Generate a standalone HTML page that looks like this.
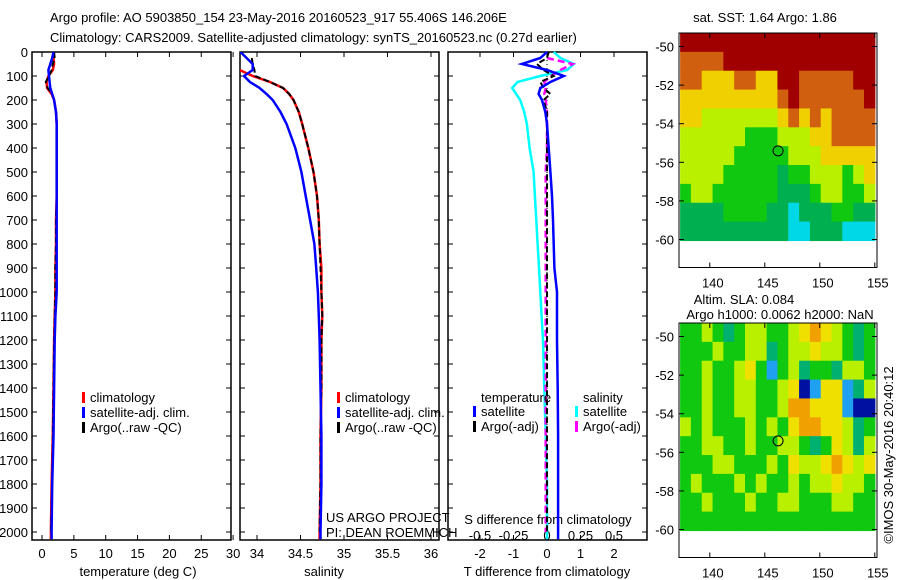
<!DOCTYPE html>
<html><head><meta charset="utf-8"><style>
body{margin:0;background:#fff;width:900px;height:580px;overflow:hidden}
svg{display:block;font-family:"Liberation Sans",sans-serif;font-size:13px}
</style></head><body>
<svg id="s" width="900" height="580">
<text x="50" y="22">Argo profile: AO 5903850_154 23-May-2016 20160523_917 55.406S 146.206E</text>
<text x="50" y="42">Climatology: CARS2009. Satellite-adjusted climatology: synTS_20160523.nc (0.27d earlier)</text>
</svg>
<script>
const depths=[0,25,50,75,100,125,150,175,200,250,300,400,500,600,700,800,900,1000,1100,1200,1400,1600,1800,2000,2030];
const tClim=[1.8,1.8,1.9,1.7,1.0,0.7,0.8,1.5,1.9,2.2,2.3,2.3,2.3,2.3,2.2,2.2,2.1,2.1,2.0,1.9,1.8,1.7,1.5,1.4,1.4];
const tSat=[1.8,1.6,1.3,1.0,1.1,1.2,1.3,1.6,1.9,2.2,2.3,2.3,2.3,2.3,2.3,2.3,2.3,2.3,2.1,2.0,1.9,1.8,1.6,1.5,1.5];
const tArgo=[1.9,2.0,1.7,1.5,1.1,0.6,0.9,1.6,1.9,2.2,2.3,2.3,2.3,2.3,2.2,2.2,2.1,2.1,2.0,1.9,1.8,1.7,1.6,1.4,null];
const sClim=[33.7,33.7,33.72,33.8,33.95,34.15,34.3,34.37,34.42,34.48,34.52,34.59,34.65,34.69,34.71,34.72,34.74,34.74,34.75,34.74,34.74,34.73,34.73,34.72,34.72];
const sSat=[33.81,33.88,33.95,33.95,33.85,33.92,34.03,34.11,34.18,34.27,34.34,34.44,34.51,34.56,34.61,34.66,34.68,34.7,34.71,34.72,34.73,34.74,34.74,34.73,34.73];
const sArgo=[null,33.94,33.95,33.97,33.98,34.15,34.3,34.37,34.42,34.48,34.52,34.59,34.65,34.69,34.71,34.72,34.73,34.74,34.75,34.74,34.74,34.73,34.73,34.72,null];
const dtSat=[0,-0.2,-0.75,0.0,0.5,0.1,-0.2,-0.25,-0.15,-0.05,0.0,0.05,0.1,0.15,0.18,0.2,0.22,0.3,0.3,0.3,0.32,0.33,0.33,0.33,0.33];
const dtArgo=[0.05,0.0,-0.3,-0.1,0.2,-0.2,-0.1,0.1,-0.1,0,0,0,0,0,0,0,0,0,0,0,0,0,0,0,null];
const dsSat=[0.05,0.1,0.2,0.15,-0.05,-0.22,-0.26,-0.23,-0.2,-0.17,-0.15,-0.13,-0.1,-0.09,-0.08,-0.07,-0.06,-0.05,-0.04,-0.03,-0.02,-0.01,0,0,0];
const dsArgo=[null,0.0,0.19,0.1,0.03,-0.02,-0.01,-0.02,-0.01,0,0,0,-0.01,-0.01,-0.01,-0.01,-0.01,-0.01,-0.01,-0.01,-0.01,-0.01,-0.01,-0.01,null];
const depthTicks=[0,100,200,300,400,500,600,700,800,900,1000,1100,1200,1300,1400,1500,1600,1700,1800,1900,2000];
const tTicks=[0,5,10,15,20,25,30];
const sTicks=[34,34.5,35,35.5,36];
const dtTicks=[-2,-1,0,1,2];
const dsTicks=[-0.5,-0.25,0,0.25,0.5];
const dsTickLabels=["-0.5","-0.25","0","0.25","0.5"];
const mapLatTicks=[-50,-52,-54,-56,-58,-60];
const mapLonTicks=[140,145,150,155];
const sstGrid=[
[7,7,7,7,7,7,7,7,7,7,7,7,7,7,7,7,7,7],
[6,6,6,6,7,7,7,7,7,7,7,7,7,7,7,7,7,7],
[6,6,5,5,5,6,6,5,5,7,7,6,6,6,6,6,7,7],
[5,5,5,5,5,5,5,5,5,6,7,6,6,6,6,6,6,7],
[5,5,4,4,4,4,4,4,4,5,6,5,6,5,6,6,6,6],
[4,4,4,4,4,4,3,3,3,4,4,4,5,5,6,6,6,6],
[4,4,4,4,4,3,3,3,3,3,4,4,4,5,5,5,5,5],
[4,4,4,4,3,3,3,3,3,2,3,3,4,4,4,3,4,5],
[3,4,4,3,3,3,3,3,3,2,2,2,3,4,4,3,3,4],
[2,2,2,2,3,3,3,3,2,2,1,2,2,2,3,3,2,2],
[2,2,2,2,2,2,2,2,2,2,1,1,2,2,2,1,1,1]];
const slaGrid=[
[3,3,4,3,2,3,4,4,3,3,4,5,6,5,4,3,2,3],
[3,3,3,4,3,3,4,4,2,3,4,4,5,4,4,3,2,3],
[3,3,4,3,3,4,5,3,1,3,4,2,3,3,2,4,4,3],
[3,3,4,3,3,4,4,3,3,4,5,0,1,5,5,1,2,4],
[3,3,4,3,3,4,4,3,3,4,6,6,5,5,5,1,0,0],
[4,3,4,3,3,3,4,3,4,3,5,6,6,5,5,4,2,3],
[3,3,4,4,3,3,4,3,3,4,4,3,2,3,5,4,2,4],
[3,3,3,4,4,3,3,3,4,3,5,4,4,5,6,5,4,5],
[3,4,3,3,3,4,3,4,3,3,4,3,4,4,5,4,4,3],
[3,3,4,3,3,3,4,3,3,4,4,3,3,3,4,4,3,3],
[3,3,3,3,3,3,3,3,3,3,3,3,3,3,3,3,3,3]];
const sstColors=["#0060ff","#00d8e8","#00b050","#10c810","#b8f000","#f0d000","#d06010","#a00000"];
const slaColors=["#0010a0","#20a0f0","#00b070","#10c810","#b8f000","#f0e000","#f0a000","#d07000"];
const argoLon=146.206, argoLat=-55.406;

const S=document.getElementById('s');const NS="http://www.w3.org/2000/svg";
function el(t,a,p){const e=document.createElementNS(NS,t);for(const k in a)e.setAttribute(k,a[k]);(p||S).appendChild(e);return e;}
function txt(x,y,s,anchor,name,extra){const e=el('text',Object.assign({x:x,y:y,'text-anchor':anchor||'start'},extra||{}));e.textContent=s;

return e;}
const Y=d=>52+d*0.24;
const T0=42,TK=6.37;const xT=v=>T0+v*TK;
const xS=v=>257+(v-34)*87;
const xDT=v=>547+v*33.5;
const xDS=v=>547+v*134;
function panel(x0,name){const g=el('g',{});


el('rect',{x:x0,y:52,width:199,height:488,fill:'none',stroke:'#000','stroke-width':1.5},g);
depthTicks.forEach(d=>{el('line',{x1:x0,x2:x0+5,y1:Y(d),y2:Y(d),stroke:'#000'},g);el('line',{x1:x0+199,x2:x0+194,y1:Y(d),y2:Y(d),stroke:'#000'},g);});
return g;}
function line(vals,xf,color,name,w,dash){let d='';let pen=false;vals.forEach((v,i)=>{if(v==null){pen=false;return;}d+=(pen?'L':'M')+xf(v).toFixed(1)+' '+Y(depths[i]).toFixed(1);pen=true;});
const p=el('path',{d:d,fill:'none',stroke:color,'stroke-width':w||2,'stroke-dasharray':dash||'none'});

return p;}
el('clipPath',{id:'c2'}).appendChild(document.createElementNS(NS,'rect'));
const cr=S.querySelector('#c2 rect');cr.setAttribute('x',240);cr.setAttribute('y',52);cr.setAttribute('width',199);cr.setAttribute('height',488);

const g1=panel(32,'temperature-panel');
depthTicks.forEach(d=>txt(28,Y(d)+5,String(d),'end','depth-tick-label'));
tTicks.forEach(v=>{el('line',{x1:xT(v),x2:xT(v),y1:52,y2:57,stroke:'#000'});el('line',{x1:xT(v),x2:xT(v),y1:540,y2:535,stroke:'#000'});txt(xT(v),558,String(v),'middle','temperature-tick-label');});
txt(138,576,'temperature (deg C)','middle','temperature-axis-title');
line(tClim,xT,'#f00','temp-climatology-line',2.5);
line(tArgo,xT,'#000','temp-argo-line',2,'6 3');
line(tSat,xT,'#00f','temp-satellite-line',2.5);
[['#f00','climatology'],['#00f','satellite-adj. clim.'],['#000','Argo(..raw -QC)']].forEach((l,i)=>{el('rect',{x:82,y:392+i*15,width:3,height:11,fill:l[0]});txt(90,402+i*15,l[1],'start','legend-entry-temp');});

const g2=panel(240,'salinity-panel');
sTicks.forEach(v=>{el('line',{x1:xS(v),x2:xS(v),y1:52,y2:57,stroke:'#000'});el('line',{x1:xS(v),x2:xS(v),y1:540,y2:535,stroke:'#000'});txt(xS(v),558,String(v),'middle','salinity-tick-label');});
txt(324,576,'salinity','middle','salinity-axis-title');
line(sClim,xS,'#f00','sal-climatology-line',2.5).setAttribute('clip-path','url(#c2)');
line(sArgo,xS,'#000','sal-argo-line',2,'6 3').setAttribute('clip-path','url(#c2)');
line(sSat,xS,'#00f','sal-satellite-line',2.5).setAttribute('clip-path','url(#c2)');
[['#f00','climatology'],['#00f','satellite-adj. clim.'],['#000','Argo(..raw -QC)']].forEach((l,i)=>{el('rect',{x:337,y:392+i*15,width:3,height:11,fill:l[0]});txt(345,402+i*15,l[1],'start','legend-entry-sal');});
txt(326,522,'US ARGO PROJECT','start','project-note');
txt(326,537,'PI: DEAN ROEMMICH','start','pi-note');

const g3=panel(448,'difference-panel');
dtTicks.forEach(v=>{el('line',{x1:xDT(v),x2:xDT(v),y1:52,y2:57,stroke:'#000'});el('line',{x1:xDT(v),x2:xDT(v),y1:540,y2:535,stroke:'#000'});txt(xDT(v),558,String(v),'middle','tdiff-tick-label');});
dsTicks.forEach((v,i)=>txt(xDS(v),540,dsTickLabels[i],'middle','sdiff-tick-label'));
txt(547,576,'T difference from climatology','middle','tdiff-axis-title');
txt(548,524,'S difference from climatology','middle','sdiff-axis-title');
el('line',{x1:xDT(0),x2:xDT(0),y1:52,y2:540,stroke:'#000','stroke-dasharray':'1 3'});
line(dsSat,xDS,'#00ffff','sdiff-satellite-line',2.5);
line(dsArgo,xDS,'#ff00ff','sdiff-argo-line',2.5,'7 4');
line(dtArgo,xDT,'#000','tdiff-argo-line',2,'6 3');
line(dtSat,xDT,'#00f','tdiff-satellite-line',2.5);
txt(481,402,'temperature','start','legend-header-temperature');
txt(583,402,'salinity','start','legend-header-salinity');
[['#00f','satellite',473],['#000','Argo(-adj)',473],['#00ffff','satellite',575],['#ff00ff','Argo(-adj)',575]].forEach((l,i)=>{const r=i%2;el('rect',{x:l[2],y:406+r*15,width:3,height:11,fill:l[0]});txt(l[2]+8,416+r*15,l[1],'start','legend-entry-diff');});

const lonL=137.2,latTop=-49.3,latBot=-61.45,gLatBot=-60.05;
function map(y0,grid,cols,name){const g=el('g',{});


const X=lo=>679+(lo-lonL)*11, YY=la=>y0+(latTop-la)*19.3;
const nr=grid.length,nc=grid[0].length,lw=(155-137.3)/nc,lh=(latTop-gLatBot)/nr;
grid.forEach((row,r)=>row.forEach((v,c)=>{el('rect',{x:X(137.3+c*lw),y:YY(latTop-r*lh),width:lw*11+0.6,height:lh*19.3+0.6,fill:cols[v]},g);}));
el('rect',{x:679,y:y0,width:198,height:(latTop-latBot)*19.3,fill:'none',stroke:'#000','stroke-width':1},g);
mapLatTicks.forEach(la=>{el('line',{x1:679,x2:684,y1:YY(la),y2:YY(la),stroke:'#000'},g);el('line',{x1:877,x2:872,y1:YY(la),y2:YY(la),stroke:'#000'},g);txt(674,YY(la)+5,String(la),'end','map-lat-label');});
const yb=y0+(latTop-latBot)*19.3;
mapLonTicks.forEach(lo=>{el('line',{x1:X(lo),x2:X(lo),y1:y0,y2:y0+5,stroke:'#000'},g);el('line',{x1:X(lo),x2:X(lo),y1:yb,y2:yb-5,stroke:'#000'},g);txt(X(lo)+3,yb+20,String(lo),'middle','map-lon-label');});
el('circle',{cx:X(argoLon),cy:YY(argoLat),r:5,fill:'none',stroke:'#000','stroke-width':1},g);
}
map(33,sstGrid,sstColors,'sst-map');
map(323,slaGrid,slaColors,'sla-map');
txt(765,22,'sat. SST: 1.64 Argo: 1.86','middle','sst-map-title');
txt(744,304,'Altim. SLA: 0.084','middle','sla-map-title');
txt(780,319,'Argo h1000: 0.0062 h2000: NaN','middle','argo-height-title');
txt(0,0,'©IMOS 30-May-2016 20:40:12','middle','timestamp-credit',{transform:'translate(893,455) rotate(-90)'});
</script>
</body></html>
